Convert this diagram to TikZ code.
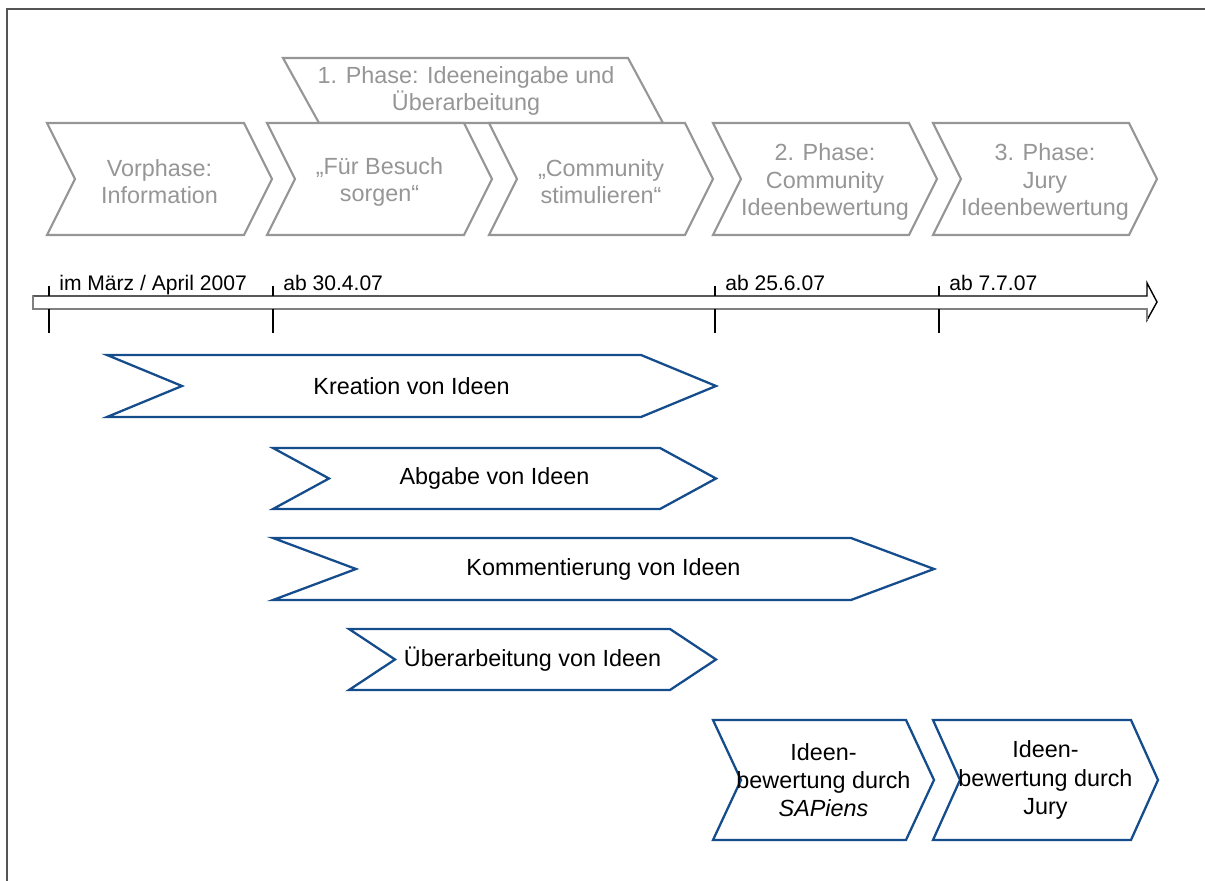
\documentclass[tikz,border=0pt]{standalone}
\usepackage{fontspec}
\setmainfont{Liberation Sans}
\usetikzlibrary{positioning}
\definecolor{phasegray}{RGB}{150,150,150}
\definecolor{taskblue}{RGB}{20,76,140}
\definecolor{framegray}{RGB}{85,85,85}
\tikzset{
  phase/.style={draw=phasegray,line width=1.2pt,fill=white},
  phaselabel/.style={text=phasegray,align=center,font=\fontsize{13.3}{15.4}\selectfont},
  task/.style={draw=taskblue,line width=1.3pt,fill=white},
  tasklabel/.style={align=center,font=\fontsize{13.3}{16}\selectfont},
  datelabel/.style={anchor=base west,inner sep=0pt,font=\fontsize{12}{14}\selectfont}
}

\begin{document}
\begin{tikzpicture}[x=0.02cm,y=-0.02cm]
  \useasboundingbox (0,0) rectangle (1205,881);
  \draw[framegray,line width=1.2pt] (7,881) -- (7,9) -- (1205,9);

  % banner of the first phase
  \draw[phase] (283,58) -- (628,58) -- (663,123) -- (319,123) -- cycle;
  \node[phaselabel] (phase1) at (466,91) {1. Phase: Ideeneingabe und\\Überarbeitung};

  % phases
  \foreach \nm/\xl/\xr/\txt in {
    vor/47/272/{Vorphase:\\Information},
    besuch/267/492/{„Für Besuch\\sorgen“},
    stimul/489/713/{„Community\\stimulieren“},
    phase2/713/937/{2. Phase:\\Community\\Ideenbewertung},
    phase3/933/1157/{3. Phase:\\Jury\\Ideenbewertung}}{
    \draw[phase] (\xl,123) -- (\xr-28,123) -- (\xr,179) -- (\xr-28,235) -- (\xl,235) -- (\xl+28,179) -- cycle;
    \node[phaselabel] (\nm) at ({(\xl+\xr)/2},182) {\txt};
  }

  % time axis
  \draw[fill=white,line width=0.8pt] (33,309) -- (33,296) -- (1147,296) -- (1147,283) -- (1157,302) -- (1147,320) -- (1147,309) -- cycle;
  \draw[gray,line width=0.8pt] (33,296) -- (33,309) -- (1147,309) -- (1147,320);
  \foreach \x/\lbl [count=\i] in {49/{im März / April 2007},273/{ab 30.4.07},715/{ab 25.6.07},939/{ab 7.7.07}}{
    \draw[line width=0.6pt] (\x,286) -- (\x,296);
    \draw[line width=1.3pt] (\x,309) -- (\x,333);
    \node[datelabel] (date\i) at (\x+10,291) {\lbl};
  }

  % activities
  \foreach \nm/\xl/\xr/\ya/\yb/\dd/\txt in {
    kreation/107/716/355/417/75/{Kreation von Ideen},
    abgabe/273/716/448/509/56/{Abgabe von Ideen},
    kommentar/273/934/538/600/83/{Kommentierung von Ideen},
    ueberarb/349/716/629/690/46/{Überarbeitung von Ideen},
    sapiens/713/934/720/840/28/{Ideen-\\bewertung durch\\\textit{SAPiens}},
    jury/933/1158/720/840/27/{Ideen-\\bewertung durch\\Jury}}{
    \draw[task] (\xl,\ya) -- (\xr-\dd,\ya) -- (\xr,{(\ya+\yb)/2}) -- (\xr-\dd,\yb) -- (\xl,\yb) -- (\xl+\dd,{(\ya+\yb)/2}) -- cycle;
    \node[tasklabel] (\nm) at ({(\xl+\xr)/2},{(\ya+\yb)/2}) {\txt};
  }
\end{tikzpicture}
\end{document}
